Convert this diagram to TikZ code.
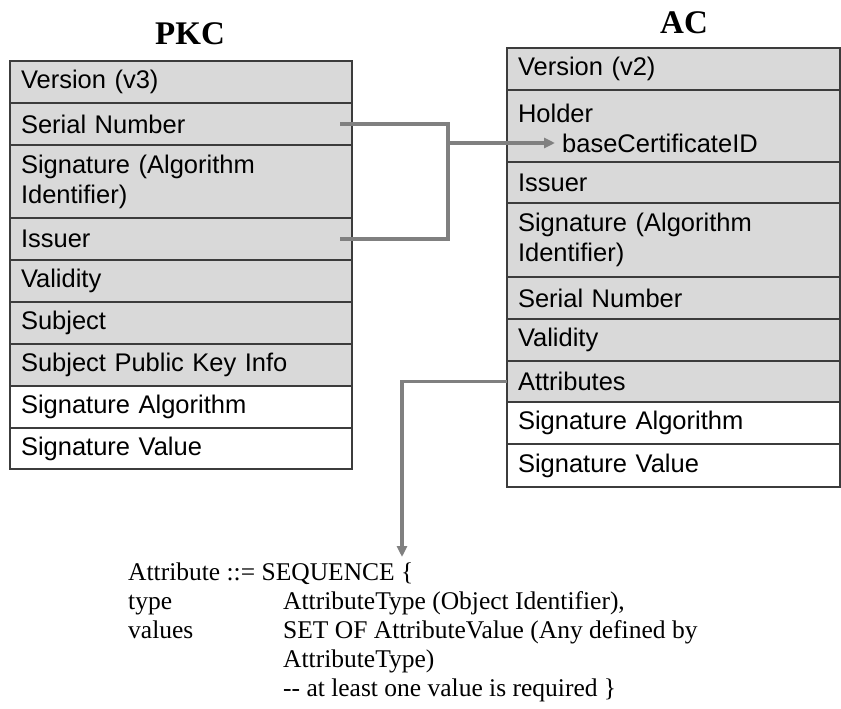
\documentclass[tikz,border=0pt]{standalone}
\usepackage{fontspec}
\setmainfont{Liberation Serif}
\newfontfamily\fieldfont{Liberation Sans}
\usetikzlibrary{positioning, arrows.meta}
\definecolor{fieldgray}{RGB}{217,217,217}
\definecolor{framegray}{RGB}{60,60,60}
\definecolor{linkgray}{RGB}{128,128,128}
\tikzset{field/.style={draw=framegray, fill=fieldgray, line width=1.7pt, outer sep=0pt,
    inner xsep=11pt, inner ysep=0pt, align=left, minimum height=42pt,
    font=\fieldfont\fontsize{25.5}{30}\selectfont},
  pkcfield/.style={field, text width=320pt},
  acfield/.style={field, text width=311pt},
  link/.style={draw=linkgray, line width=3.5pt},
  linktip/.style={-{Triangle[length=11pt, width=10pt]}},
  title/.style={font=\bfseries\fontsize{33}{36}\selectfont}
}

\begin{document}
\begin{tikzpicture}[x=1pt, y=-1pt]
      \useasboundingbox (0,0) rectangle (841,709);
      \node[title] (pkcTitle) at (190,34) {PKC};
      \node[title] (acTitle) at (684,23) {AC};

      \node[pkcfield, anchor=north west] (pkcVer) at (10,61) {Version (v3)};
      \node[pkcfield, below=0pt of pkcVer] (pkcSerial) {Serial Number};
      \node[pkcfield, below=0pt of pkcSerial, minimum height=73pt] (pkcSig) {Signature (Algorithm\\Identifier)};
      \node[pkcfield, below=0pt of pkcSig] (pkcIssuer) {Issuer};
      \node[pkcfield, below=0pt of pkcIssuer] (pkcValid) {Validity};
      \node[pkcfield, below=0pt of pkcValid] (pkcSubj) {Subject};
      \node[pkcfield, below=0pt of pkcSubj] (pkcKey) {Subject Public Key Info};
      \node[pkcfield, below=0pt of pkcKey, fill=white] (pkcAlg) {Signature Algorithm};
      \node[pkcfield, below=0pt of pkcAlg, fill=white, minimum height=41pt] (pkcVal) {Signature Value};

      \node[acfield, anchor=north west] (acVer) at (507,48) {Version (v2)};
      \node[acfield, below=0pt of acVer, minimum height=72pt, anchor=north] (acHolder) {Holder\\[-4pt]\phantom{b}\\[-4pt]};
      \node[acfield, below=0pt of acHolder, minimum height=41pt] (acIssuer) {Issuer};
      \node[acfield, below=0pt of acIssuer, minimum height=74pt] (acSig) {Signature (Algorithm\\Identifier)};
      \node[acfield, below=0pt of acSig] (acSerial) {Serial Number};
      \node[acfield, below=0pt of acSerial] (acValid) {Validity};
      \node[acfield, below=0pt of acValid, minimum height=41pt] (acAttr) {Attributes};
      \node[acfield, below=0pt of acAttr, fill=white] (acAlg) {Signature Algorithm};
      \node[acfield, below=0pt of acAlg, fill=white, minimum height=43pt] (acVal) {Signature Value};
      \node[anchor=west, inner xsep=7pt, inner ysep=0pt, font=\fieldfont\fontsize{25.5}{30}\selectfont] (acBase) at (555,143) {baseCertificateID};

      \node[anchor=north west, inner sep=0pt, align=left, font=\fontsize{25.5}{29}\selectfont] (attrSeq) at (128,560) {%
        \begin{tabular}{@{}p{155pt}@{}l@{}}
          \multicolumn{2}{@{}l@{}}{Attribute ::= SEQUENCE \{}\\
          type & AttributeType (Object Identifier),\\
          values & SET OF AttributeValue (Any defined by\\
           & AttributeType)\\
           & -{}- at least one value is required \}
        \end{tabular}};

      \coordinate (joinX) at (448,0);
      \coordinate (seqTop) at (402,557);
      \draw[link] ([xshift=-12pt]pkcSerial.east) -| (joinX |- pkcIssuer) -- ([xshift=-12pt]pkcIssuer.east);
      \draw[link, linktip] (joinX |- acBase) -- (acBase.west);
      \draw[link, linktip] (acAttr.west) -| (seqTop);
    \end{tikzpicture}
\end{document}
